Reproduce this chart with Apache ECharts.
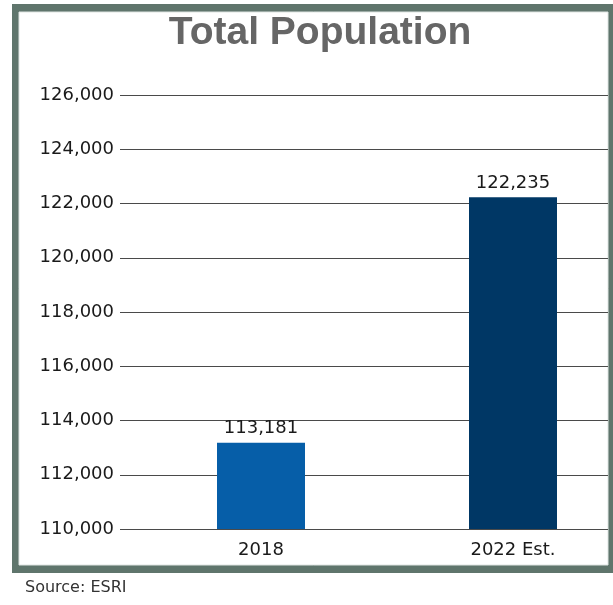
<!DOCTYPE html>
<html>
<head>
<meta charset="utf-8">
<script src="https://cdn.jsdelivr.net/npm/echarts@6/dist/echarts.min.js"></script>
<style>html,body{margin:0;padding:0;background:#fff;}#c{width:613px;height:605px;}</style>
</head>
<body>
<div id="c"></div>
<script>
const categories = ['2018', '2022 Est.'];
const population = [113181, 122235];
const barColors = ['#065ea8', '#003765'];
const yMin = 110000, yMax = 126000, yStep = 2000;
const titleText = 'Total Population';
const sourceText = 'Source: ESRI';

const chart = echarts.init(document.getElementById('c'), null, {renderer: 'canvas'});
const fmt = v => v.toLocaleString('en-US');
const labelFont = {fontFamily: 'DejaVu Sans', fontSize: 18, color: '#1a1a1a'};

chart.setOption({
  backgroundColor: '#ffffff',
  animation: false,
  title: {
    text: titleText, left: 315, top: 9, textAlign: 'center',
    textStyle: {fontFamily: 'Liberation Sans', fontWeight: 'bold', fontSize: 39, color: '#666666'}
  },
  graphic: [
    {type: 'rect', z: -10, shape: {x: 12, y: 4, width: 610, height: 569}, style: {fill: '#5f756c'}},
    {type: 'rect', z: -9, shape: {x: 19, y: 12, width: 589, height: 553}, style: {fill: '#ffffff', stroke: '#dfe5e2', lineWidth: 1}},
    {type: 'text', left: 25, top: 580, style: {text: sourceText, font: '16px "DejaVu Sans"', fill: '#333333'}}
  ],
  grid: [
    {left: 120, right: 5, top: 95, bottom: 76, containLabel: false, outerBoundsMode: 'none'},
    {left: 135, width: 504, top: 95, bottom: 76, containLabel: false, outerBoundsMode: 'none'}
  ],
  xAxis: [
    {type: 'category', gridIndex: 0, data: categories, show: false},
    {type: 'category', gridIndex: 1, data: categories,
      axisLine: {show: false}, axisTick: {show: false}, splitLine: {show: false},
      axisLabel: Object.assign({margin: 12}, labelFont)}
  ],
  yAxis: [
    {type: 'value', gridIndex: 0, min: yMin, max: yMax, interval: yStep,
      axisLine: {show: false}, axisTick: {show: false},
      splitLine: {show: true, lineStyle: {color: '#4a4a4a', width: 1}},
      axisLabel: Object.assign({margin: 6, formatter: fmt}, labelFont)},
    {type: 'value', gridIndex: 1, min: yMin, max: yMax, interval: yStep, show: false, splitLine: {show: false}}
  ],
  series: [{
    type: 'bar', xAxisIndex: 1, yAxisIndex: 1, barWidth: 88,
    data: population.map((v, i) => ({value: v, itemStyle: {color: barColors[i]}})),
    label: Object.assign({show: true, position: 'top', distance: 5, formatter: p => fmt(p.value)}, labelFont)
  }]
});
</script>
</body>
</html>
